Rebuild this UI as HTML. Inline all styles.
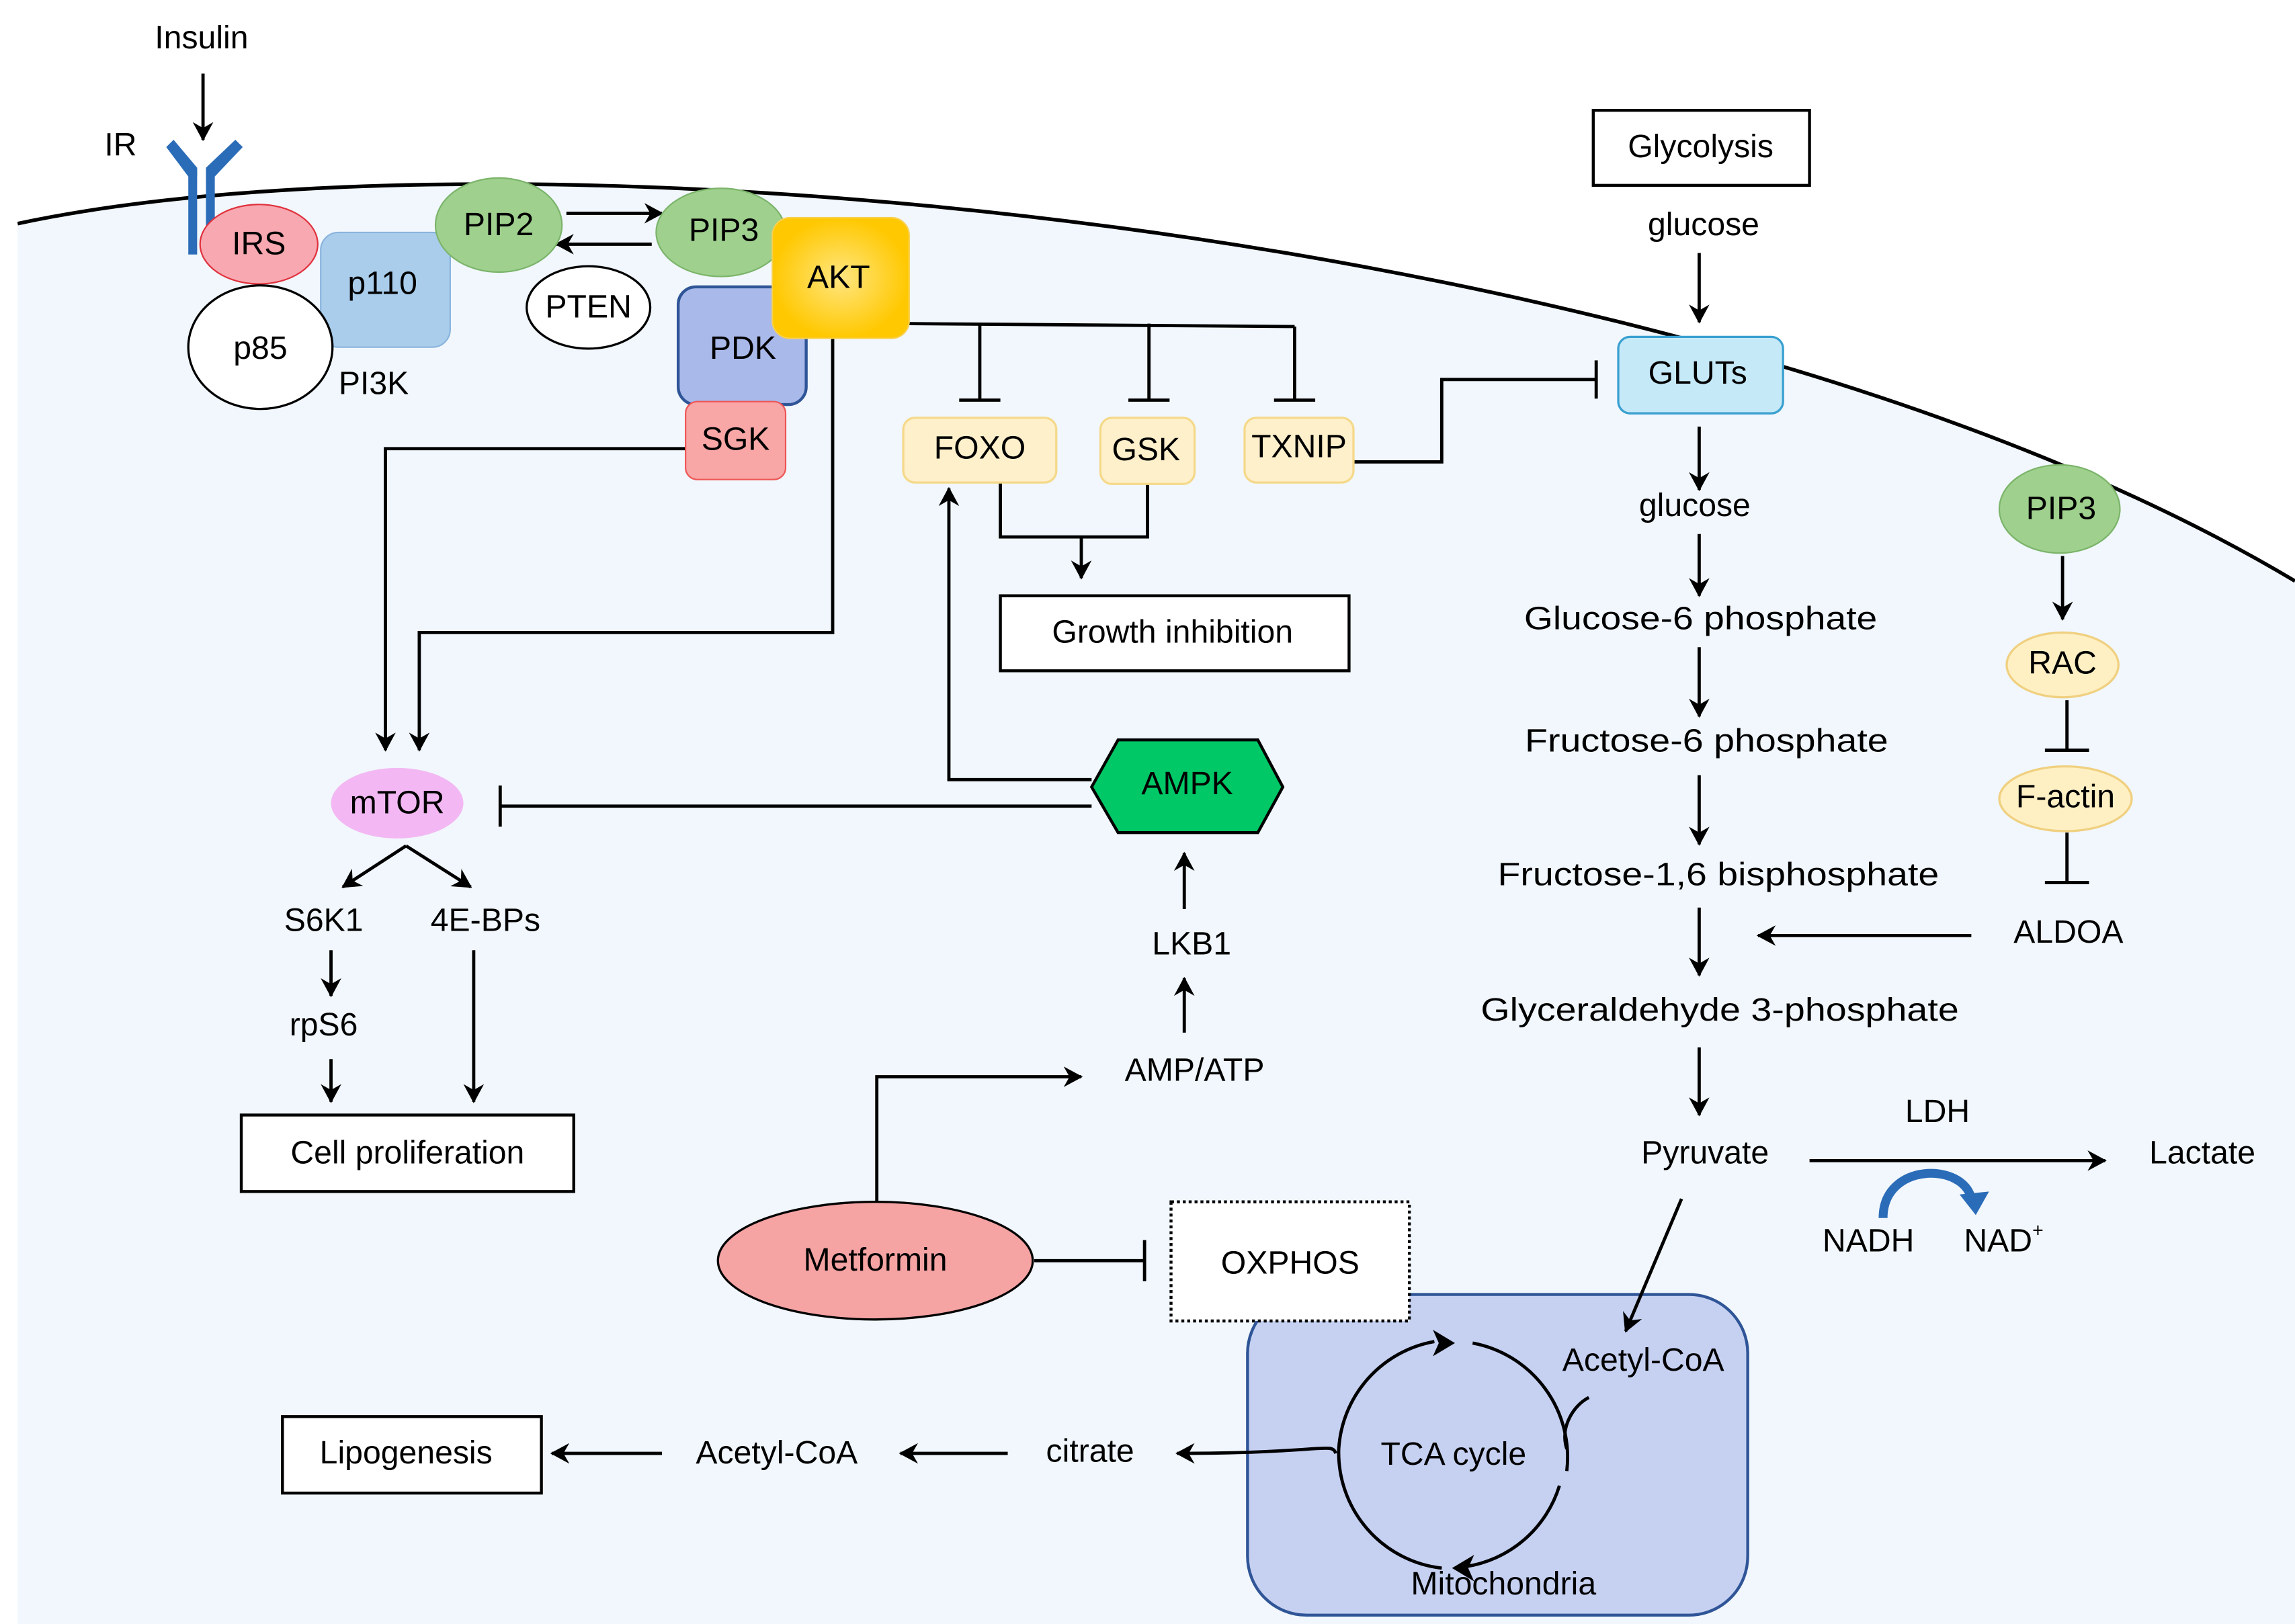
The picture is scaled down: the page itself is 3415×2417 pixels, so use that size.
<!DOCTYPE html>
<html><head><meta charset="utf-8"><style>
html,body{margin:0;padding:0;background:#fff;}
svg{display:block;}
text{font-family:"Liberation Sans",sans-serif;font-size:22px;fill:#000;text-anchor:middle;dominant-baseline:middle;}
</style></head><body>
<svg width="3415" height="2417" viewBox="0 0 1560 1104" preserveAspectRatio="none" xmlns="http://www.w3.org/2000/svg">
<defs>
<marker id="a" markerWidth="14" markerHeight="14" refX="12" refY="7" orient="auto" markerUnits="userSpaceOnUse">
<path d="M0,0 L13,7 L0,14 L4,7 Z" fill="#000"/></marker>
<radialGradient id="gold"><stop offset="0" stop-color="#ffe680"/><stop offset="1" stop-color="#ffc800"/></radialGradient>
</defs>
<rect width="1560" height="1104" fill="#fff"/>
<path d="M12,152 C350,80 1150,150 1560,395 L1560,1104 L12,1104 Z" fill="#f1f7fc"/>
<path d="M12,152 C350,80 1150,150 1560,395" fill="none" stroke="#000" stroke-width="2.5"/>
<g stroke="#000" stroke-width="2.2" fill="none">
<line x1="138" y1="50" x2="138" y2="95" marker-end="url(#a)"/>
<line x1="385" y1="145" x2="450" y2="145" marker-end="url(#a)"/>
<line x1="443" y1="166" x2="378" y2="166" marker-end="url(#a)"/>
<path d="M618,220 L880,222"/>
<path d="M666,220 V272 M652,272 H680 M781,220 V272 M767,272 H795 M880,222 V272 M866,272 H894"/>
<path d="M920,314 H980 V258 H1085 M1085,245 V271"/>
<path d="M680,328 V365 H780 V328"/>
<line x1="735" y1="365" x2="735" y2="393" marker-end="url(#a)"/>
<path d="M466,305 H262 V510" marker-end="url(#a)"/>
<path d="M566,230 V430 H285 V510" marker-end="url(#a)"/>
<path d="M742,548 H340 M340,534 V562"/>
<path d="M742,530 H645 V332" marker-end="url(#a)"/>
<line x1="805" y1="618" x2="805" y2="580" marker-end="url(#a)"/>
<line x1="805" y1="702" x2="805" y2="665" marker-end="url(#a)"/>
<line x1="276" y1="575" x2="233" y2="603" marker-end="url(#a)"/>
<line x1="276" y1="575" x2="320" y2="603" marker-end="url(#a)"/>
<line x1="225" y1="646" x2="225" y2="677" marker-end="url(#a)"/>
<line x1="225" y1="720" x2="225" y2="749" marker-end="url(#a)"/>
<line x1="322" y1="646" x2="322" y2="749" marker-end="url(#a)"/>
<path d="M596,817 V732 H735" marker-end="url(#a)"/>
<path d="M703,857 H778 M778,843 V871"/>
<line x1="1155" y1="172" x2="1155" y2="219" marker-end="url(#a)"/>
<line x1="1155" y1="290" x2="1155" y2="333" marker-end="url(#a)"/>
<line x1="1155" y1="363" x2="1155" y2="405" marker-end="url(#a)"/>
<line x1="1155" y1="440" x2="1155" y2="487" marker-end="url(#a)"/>
<line x1="1155" y1="527" x2="1155" y2="574" marker-end="url(#a)"/>
<line x1="1155" y1="617" x2="1155" y2="663" marker-end="url(#a)"/>
<line x1="1155" y1="712" x2="1155" y2="758" marker-end="url(#a)"/>
<line x1="1340" y1="636" x2="1195" y2="636" marker-end="url(#a)"/>
<line x1="1402" y1="378" x2="1402" y2="421" marker-end="url(#a)"/>
<path d="M1405,476 V510 M1390,510 H1420 M1405,566 V600 M1390,600 H1420"/>
<line x1="1230" y1="789" x2="1431" y2="789" marker-end="url(#a)"/>
</g>
<g fill="#2b6cb8">
<rect x="128" y="115" width="6" height="58"/><rect x="140" y="115" width="6" height="58"/>
<path d="M113,100 L118,95 L134,114 L134,120 L128,120 Z"/><path d="M165,100 L160,95 L140,114 L140,120 L146,120 Z"/>
</g>
<text x="137" y="27">Insulin</text><text x="82" y="100">IR</text>
<rect x="218" y="158" width="88" height="78" rx="12" fill="#a9cdeb" stroke="#8ab4dc"/>
<ellipse cx="176" cy="166" rx="40" ry="27" fill="#f7a8b0" stroke="#e0303c"/>
<ellipse cx="177" cy="236" rx="49" ry="42" fill="#fff" stroke="#000" stroke-width="1.5"/>
<text x="176" y="167">IRS</text><text x="260" y="194">p110</text><text x="177" y="238">p85</text><text x="254" y="262">PI3K</text>
<ellipse cx="339" cy="153" rx="43" ry="32" fill="#9fd08e" stroke="#7bb46a"/>
<text x="339" y="154">PIP2</text>
<ellipse cx="400" cy="209" rx="42" ry="28" fill="#fff" stroke="#000" stroke-width="1.5"/>
<text x="400" y="210">PTEN</text>
<ellipse cx="490" cy="158" rx="44" ry="30" fill="#9fd08e" stroke="#7bb46a"/>
<text x="492" y="158">PIP3</text>
<rect x="461" y="195" width="87" height="80" rx="12" fill="#a9b9ea" stroke="#2f5597" stroke-width="2"/>
<text x="505" y="238">PDK</text>
<rect x="466" y="273" width="68" height="53" rx="8" fill="#f8a6a6" stroke="#e55"/>
<text x="500" y="300">SGK</text>
<rect x="525" y="148" width="93" height="82" rx="12" fill="url(#gold)" stroke="#f8d050"/>
<text x="570" y="190">AKT</text>
<g fill="#fff0cc" stroke="#f5d98a" stroke-width="1.5">
<rect x="614" y="284" width="104" height="44" rx="8"/><rect x="748" y="284" width="64" height="45" rx="8"/><rect x="846" y="284" width="74" height="44" rx="8"/>
</g>
<text x="666" y="306">FOXO</text><text x="779" y="307">GSK</text><text x="883" y="305">TXNIP</text>
<rect x="680" y="405" width="237" height="51" fill="#fff" stroke="#000" stroke-width="2"/>
<text x="797" y="431">Growth inhibition</text>
<ellipse cx="270" cy="546" rx="45" ry="24" fill="#f3b8f3"/>
<text x="270" y="547">mTOR</text>
<polygon points="742,535 760,503 855,503 872,535 855,566 760,566" fill="#00c866" stroke="#000" stroke-width="2"/>
<text x="807" y="534">AMPK</text>
<text x="810" y="643">LKB1</text><text x="812" y="729">AMP/ATP</text>
<text x="220" y="627">S6K1</text><text x="330" y="627">4E-BPs</text><text x="220" y="698">rpS6</text>
<rect x="164" y="758" width="226" height="52" fill="#fff" stroke="#000" stroke-width="2"/>
<text x="277" y="785">Cell proliferation</text>
<ellipse cx="595" cy="857" rx="107" ry="40" fill="#f5a3a3" stroke="#000" stroke-width="1.5"/>
<text x="595" y="858">Metformin</text>
<rect x="848" y="880" width="340" height="218" rx="40" fill="#c6d1f2" stroke="#2f5597" stroke-width="2"/>
<rect x="796" y="817" width="162" height="81" fill="#fff" stroke="#000" stroke-width="2" stroke-dasharray="2,2"/>
<text x="877" y="860">OXPHOS</text>
<g stroke="#000" stroke-width="2.2" fill="none">
<line x1="1143" y1="815" x2="1105" y2="905" marker-end="url(#a)"/>
<path d="M1001,913 A79,79 0 0 1 1065,1000"/>
<path d="M1060,1010 A79,79 0 0 1 996,1065" />
<path d="M980,1066 A79,79 0 0 1 910,985 A79,79 0 0 1 975,912" />
<path d="M1065,985 C1060,970 1070,955 1080,950"/>
<path d="M908,988 C905,980 900,988 800,988" marker-end="url(#a)"/>
<line x1="685" y1="988" x2="612" y2="988" marker-end="url(#a)"/>
<line x1="450" y1="988" x2="375" y2="988" marker-end="url(#a)"/>
</g>
<path d="M989,913 L974,904 L978,913 L974,922 Z" fill="#000"/>
<path d="M987,1066 L1002,1057 L998,1066 L1002,1075 Z" fill="#000"/>
<text x="988" y="990">TCA cycle</text><text x="1022" y="1078">Mitochondria</text><text x="1117" y="926">Acetyl-CoA</text>
<text x="741" y="988">citrate</text><text x="528" y="989">Acetyl-CoA</text>
<rect x="192" y="963" width="176" height="52" fill="#fff" stroke="#000" stroke-width="2"/>
<text x="276" y="989">Lipogenesis</text>
<rect x="1083" y="75" width="147" height="51" fill="#fff" stroke="#000" stroke-width="2"/>
<text x="1156" y="101">Glycolysis</text>
<text x="1158" y="154">glucose</text>
<rect x="1100" y="229" width="112" height="52" rx="8" fill="#c6e9f8" stroke="#3aa0d0" stroke-width="1.5"/>
<text x="1154" y="255">GLUTs</text>
<text x="1152" y="345">glucose</text>
<text x="1156" y="422" textLength="240" lengthAdjust="spacingAndGlyphs">Glucose-6 phosphate</text>
<text x="1160" y="505" textLength="247" lengthAdjust="spacingAndGlyphs">Fructose-6 phosphate</text>
<text x="1168" y="596" textLength="300" lengthAdjust="spacingAndGlyphs">Fructose-1,6 bisphosphate</text>
<text x="1169" y="688" textLength="325" lengthAdjust="spacingAndGlyphs">Glyceraldehyde 3-phosphate</text>
<text x="1159" y="785">Pyruvate</text>
<ellipse cx="1400" cy="346" rx="41" ry="30" fill="#9fd08e" stroke="#7bb46a"/>
<text x="1401" y="347">PIP3</text>
<ellipse cx="1402" cy="452" rx="38" ry="22" fill="#fff0c4" stroke="#f0d080" stroke-width="1.5"/>
<text x="1402" y="452">RAC</text>
<ellipse cx="1404" cy="543" rx="45" ry="22" fill="#fff0c4" stroke="#f0d080" stroke-width="1.5"/>
<text x="1404" y="543">F-actin</text>
<text x="1406" y="635">ALDOA</text>
<text x="1317" y="757">LDH</text><text x="1497" y="785">Lactate</text>
<text x="1270" y="845">NADH</text><text x="1362" y="845">NAD<tspan font-size="13" dy="-8">+</tspan></text>
<path d="M1280,828 C1280,790 1335,790 1340,815" fill="none" stroke="#2b6cb8" stroke-width="6"/>
<path d="M1332,812 L1352,810 L1343,826 Z" fill="#2b6cb8"/>
</svg>
</body></html>
